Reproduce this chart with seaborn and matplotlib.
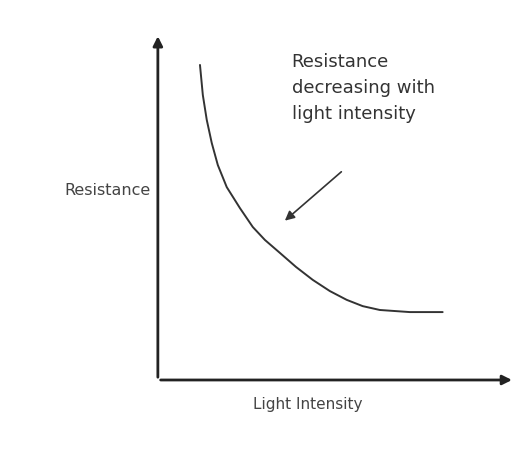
import matplotlib
matplotlib.use("Agg")
import matplotlib.pyplot as plt
import seaborn as sns
import pandas as pd

# light intensity vs resistance (arbitrary units)
light = [1.18, 1.26, 1.37, 1.51, 1.68, 1.93, 2.30, 2.66, 3.00, 3.42, 3.87,
         4.34, 4.82, 5.29, 5.74, 6.22, 7.06, 7.98]
resistance = [9.0, 8.14, 7.43, 6.77, 6.14, 5.51, 4.91, 4.37, 4.0, 3.63, 3.23,
              2.86, 2.54, 2.29, 2.11, 2.0, 1.94, 1.94]

annotation = "Resistance\ndecreasing with\nlight intensity"
x_label = "Light Intensity"
y_label = "Resistance"

df = pd.DataFrame({"Light": light, "Resistance": resistance})

sns.set_style("white")
fig = plt.figure(figsize=(5.21, 4.57), dpi=100)
ax = fig.add_axes([0.303, 0.1685, 0.685, 0.766])

sns.lineplot(data=df, x="Light", y="Resistance", ax=ax, color="#333333", linewidth=1.4)

ax.set_xlim(0, 10)
ax.set_ylim(0, 10)
for s in ax.spines.values():
    s.set_visible(False)
ax.set_xticks([])
ax.set_yticks([])
ax.set_xlabel("")
ax.set_ylabel("")

# axis arrows
ax.annotate("", xy=(10, 0), xytext=(0, 0), xycoords="data",
            arrowprops=dict(arrowstyle="-|>", color="#222222", lw=2, mutation_scale=14),
            annotation_clip=False)
ax.annotate("", xy=(0, 9.9), xytext=(0, 0), xycoords="data",
            arrowprops=dict(arrowstyle="-|>", color="#222222", lw=2, mutation_scale=14),
            annotation_clip=False)

# callout
ax.annotate("", xy=(3.5, 4.5), xytext=(5.2, 6.0),
            arrowprops=dict(arrowstyle="-|>", color="#333333", lw=1.2, mutation_scale=14))
ax.text(3.75, 9.35, annotation, fontsize=13, color="#333333", va="top", ha="left",
        linespacing=1.6)

ax.text(-0.2, 5.4, y_label, fontsize=11.5, color="#444444", ha="right", va="center")
ax.text(4.2, -0.7, x_label, fontsize=11, color="#444444", ha="center", va="center")

fig.savefig("out.png", dpi=100)
